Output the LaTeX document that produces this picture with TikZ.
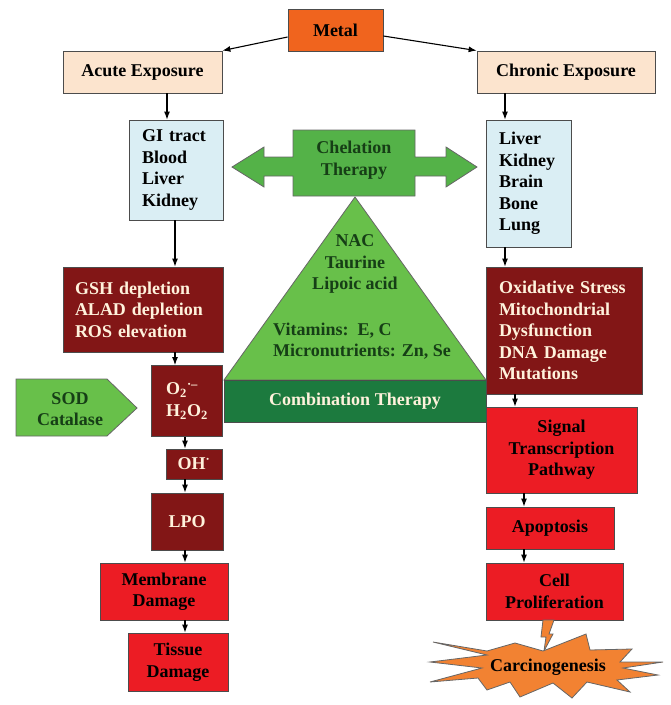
\documentclass[tikz,border=0pt]{standalone}
\usepackage{fontspec}
\setmainfont{Liberation Serif}
\usetikzlibrary{arrows.meta}

\definecolor{metalorange}{RGB}{240,100,30}
\definecolor{peach}{RGB}{252,228,206}
\definecolor{paleblue}{RGB}{218,238,244}
\definecolor{darkmaroon}{RGB}{130,22,22}
\definecolor{brightred}{RGB}{236,28,36}
\definecolor{chelgreen}{RGB}{84,178,72}
\definecolor{lightgreen}{RGB}{104,192,74}
\definecolor{bandgreen}{RGB}{28,122,62}
\definecolor{leafink}{RGB}{22,62,22}
\definecolor{cream}{RGB}{255,242,220}
\definecolor{starorange}{RGB}{242,130,50}

\begin{document}
\begin{tikzpicture}[x=1pt, y=-1pt,
    every node/.style={font=\fontsize{18}{21.5}\selectfont\bfseries},
    box/.style={draw=black!70, line width=0.8pt, inner sep=0pt, align=center},
    peachbox/.style={box, fill=peach},
    bluebox/.style={box, fill=paleblue, align=left},
    darkbox/.style={box, fill=darkmaroon, text=cream},
    redbox/.style={box, fill=brightred, text=black},
    greenshape/.style={draw=black!60, line width=0.8pt, fill=#1},
    arr/.style={-{Latex[length=8pt,width=6pt]}, line width=1.1pt, black}]
      \useasboundingbox (0,0) rectangle (671,705);
      % top of the chart
      \node[box, fill=metalorange, minimum width=95, minimum height=42] (metal) at (335.5,30) {Metal};
      \node[peachbox, minimum width=159, minimum height=42] (acute) at (142.5,72) {Acute Exposure};
      \node[peachbox, minimum width=178, minimum height=42] (chronic) at (566,72) {Chronic Exposure};
      \node[bluebox, minimum width=94, minimum height=100, text width=68] (gi) at (176,170) {GI tract\\Blood\\Liver\\Kidney};
      \node[bluebox, minimum width=85, minimum height=127, text width=59] (organs) at (528.5,183.5) {Liver\\Kidney\\Brain\\Bone\\Lung};
      % acute side
      \node[darkbox, align=left, minimum width=160, minimum height=85, text width=136] (gsh) at (143,309.5) {GSH depletion\\ALAD depletion\\ROS elevation};
      \node[darkbox, align=left, minimum width=71, minimum height=71] (radical) at (187,401) {O\textsubscript{2}\textsuperscript{·–}\\H\textsubscript{2}O\textsubscript{2}};
      \node[darkbox, minimum width=56, minimum height=30] (hydroxyl) at (194,464) {OH\textsuperscript{·}};
      \node[darkbox, minimum width=72, minimum height=57] (lpo) at (187,521.5) {LPO};
      \node[redbox, minimum width=128, minimum height=57] (membrane) at (164,591.5) {Membrane\\Damage};
      \node[redbox, minimum width=100, minimum height=58] (tissue) at (178,662) {Tissue\\Damage};
      % chronic side
      \node[darkbox, align=left, minimum width=156, minimum height=127, text width=130] (stress) at (564,330.5) {Oxidative Stress\\Mitochondrial\\Dysfunction\\DNA Damage\\Mutations};
      \node[redbox, minimum width=151, minimum height=86] (signal) at (561.5,450) {Signal\\Transcription\\Pathway};
      \node[redbox, minimum width=128, minimum height=42] (apoptosis) at (550,528) {Apoptosis};
      \node[redbox, minimum width=137, minimum height=57] (prolif) at (554.5,591.5) {Cell\\Proliferation};
      % therapies
      \draw[greenshape=chelgreen] (293,130) -- (415,130) -- (415,157) -- (446,157) -- (446,147) -- (477,167)
        -- (446,187) -- (446,176) -- (415,176) -- (415,196) -- (293,196) -- (293,176) -- (264,176)
        -- (264,187) -- (232,167) -- (264,147) -- (264,157) -- (293,157) -- cycle;
      \node[text=leafink, align=center] (chelation) at (354,160) {Chelation\\Therapy};
      \draw[greenshape=lightgreen] (355,197) -- (486,380) -- (224,380) -- cycle;
      \node[text=leafink, align=center] (antiox) at (355,264) {NAC\\Taurine\\Lipoic acid};
      \node[text=leafink, align=left, anchor=west, inner sep=0pt] (nutrients) at (273,341) {Vitamins:\ \ E, C\\Micronutrients: Zn, Se};
      \node[box, fill=bandgreen, text=cream, minimum width=262, minimum height=42] (combo) at (355,401) {Combination Therapy};
      \draw[greenshape=lightgreen] (16,379) -- (107,379) -- (137,408) -- (107,436) -- (16,436) -- cycle;
      \node[text=leafink, align=center] (sod) at (70,409) {SOD\\Catalase};
      % carcinogenesis burst
      \draw[greenshape=starorange] (543,620) -- (554,620) -- (549,634) -- (553,634) -- (544,651) -- (546,637) -- (541,637) -- cycle;
      \draw[greenshape=starorange] (433,642) -- (487,651) -- (515,643) -- (543,651) -- (586,634) -- (590,650)
        -- (632,649) -- (620,662) -- (663,662) -- (623,668) -- (658,675) -- (617,680) -- (630,692)
        -- (587,682) -- (572,698) -- (553,683) -- (520,697) -- (510,682) -- (487,690) -- (478,678)
        -- (430,682) -- (482,668) -- (430,662) -- (487,655) -- cycle;
      \node (carcino) at (548,667) {Carcinogenesis};
      % arrow columns
      \coordinate (acol) at (167,0);
      \coordinate (ccol) at (505,0);
      \coordinate (gcol) at (175,0);
      \coordinate (lcol) at (185,0);
      \coordinate (rcol) at (515,0);
      \coordinate (scol) at (524,0);
      \draw[arr] ([yshift=-7pt]metal.west) -- (acute.north east);
      \draw[arr] ([yshift=-6pt]metal.east) -- (chronic.north west);
      \draw[arr] (acute.south -| acol) -- (gi.north -| acol);
      \draw[arr] (chronic.south -| ccol) -- (organs.north -| ccol);
      \draw[arr] (gi.south -| gcol) -- (gsh.north -| gcol);
      \draw[arr] (gsh.south -| gcol) -- (radical.north -| gcol);
      \draw[arr] (radical.south -| lcol) -- (hydroxyl.north -| lcol);
      \draw[arr] (hydroxyl.south -| lcol) -- (lpo.north -| lcol);
      \draw[arr] (lpo.south -| lcol) -- (membrane.north -| lcol);
      \draw[arr] (membrane.south -| lcol) -- (tissue.north -| lcol);
      \draw[arr] (organs.south -| ccol) -- (stress.north -| ccol);
      \draw[arr] (stress.south -| rcol) -- (signal.north -| rcol);
      \draw[arr] (signal.south -| scol) -- (apoptosis.north -| scol);
      \draw[arr] (apoptosis.south -| scol) -- (prolif.north -| scol);
    \end{tikzpicture}
\end{document}
